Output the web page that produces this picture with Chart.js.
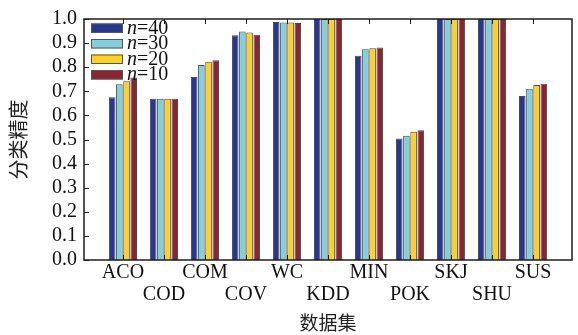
<!DOCTYPE html>
<html>
<head>
<meta charset="utf-8">
<script src="https://cdn.jsdelivr.net/npm/chart.js@4.4.1/dist/chart.umd.min.js"></script>
<style>
  html, body { margin: 0; padding: 0; background: #fff; }
  #wrap { width: 578px; height: 335px; }
</style>
</head>
<body>
<div id="wrap"><canvas id="chart"></canvas></div>
<script>
// data sets on the x axis, in drawing order
const datasetNames = ['ACO', 'COD', 'COM', 'COV', 'WC', 'KDD', 'MIN', 'POK', 'SKJ', 'SHU', 'SUS'];
const seriesN = ['40', '30', '20', '10'];

// classification accuracy per data set
const accN40 = [0.675, 0.669, 0.759, 0.933, 0.988, 1.0, 0.848, 0.504, 1.0, 1.0, 0.680];
const accN30 = [0.729, 0.669, 0.809, 0.948, 0.985, 1.0, 0.875, 0.516, 1.0, 1.0, 0.711];
const accN20 = [0.742, 0.669, 0.823, 0.944, 0.985, 1.0, 0.879, 0.532, 1.0, 1.0, 0.726];
const accN10 = [0.757, 0.669, 0.829, 0.935, 0.983, 1.0, 0.882, 0.538, 1.0, 1.0, 0.731];

const yTicks = [0.0, 0.1, 0.2, 0.3, 0.4, 0.5, 0.6, 0.7, 0.8, 0.9, 1.0];
const xTicks = datasetNames.map((_, i) => i + 1);

const COLORS = ['#283891', '#80cfdb', '#fdd024', '#8b2631'];
const SERIF = '"Liberation Serif", "Times New Roman", serif';
const AXIS = '#1e1e1e';

const allSeries = [accN40, accN30, accN20, accN10];

// frame + inward tick marks
const framePlugin = {
  id: 'frame',
  afterDatasetsDraw(chart) {
    const { ctx, chartArea: a } = chart;
    const x = chart.scales.x, y = chart.scales.y;
    ctx.save();
    ctx.strokeStyle = AXIS;
    ctx.lineWidth = 1;
    ctx.beginPath();
    yTicks.forEach(v => {
      const py = Math.round(y.getPixelForValue(v)) + 0.5;
      ctx.moveTo(a.left, py); ctx.lineTo(a.left + 5, py);
    });
    xTicks.forEach(v => {
      const px = Math.round(x.getPixelForValue(v)) + 0.5;
      ctx.moveTo(px, a.bottom); ctx.lineTo(px, a.bottom - 5);
      ctx.moveTo(px, a.top); ctx.lineTo(px, a.top + 5);
    });
    ctx.stroke();
    ctx.lineWidth = 1.5;
    ctx.strokeRect(a.left, a.top, a.right - a.left, a.bottom - a.top);
    ctx.restore();
  }
};

// legend inside the plot, with italic n
const legendPlugin = {
  id: 'innerLegend',
  afterDraw(chart) {
    const { ctx, chartArea: a } = chart;
    ctx.save();
    chart.data.datasets.forEach((ds, i) => {
      const top = a.top + 4.5 + i * 15.5;
      const bx = a.left + 7;
      ctx.fillStyle = ds.backgroundColor;
      ctx.fillRect(bx, top, 32, 9.5);
      ctx.strokeStyle = '#555';
      ctx.lineWidth = 1;
      ctx.strokeRect(bx + 0.5, top + 0.5, 31, 8.5);
      ctx.fillStyle = '#111';
      ctx.textBaseline = 'alphabetic';
      ctx.textAlign = 'left';
      const base = top + 10;
      let tx = bx + 36;
      ctx.font = 'italic 20px ' + SERIF;
      ctx.fillText('n', tx, base);
      tx += ctx.measureText('n').width;
      ctx.font = '20px ' + SERIF;
      ctx.fillText('=' + seriesN[i], tx, base);
    });
    ctx.restore();
  }
};

new Chart(document.getElementById('chart'), {
  type: 'bar',
  data: {
    datasets: allSeries.map((vals, i) => ({
      label: 'n=' + seriesN[i],
      data: vals.map((v, j) => ({ x: j + 1, y: v })),
      backgroundColor: COLORS[i],
      borderColor: '#4a4a4a',
      borderWidth: 1,
      categoryPercentage: 0.7,
      barPercentage: 0.92
    }))
  },
  options: {
    responsive: true,
    maintainAspectRatio: false,
    animation: false,
    layout: { padding: { top: 12, right: 6, left: 0, bottom: 0 } },
    plugins: {
      legend: { display: false },
      tooltip: { enabled: false }
    },
    scales: {
      x: {
        type: 'linear',
        min: 0.05,
        max: 11.95,
        offset: false,
        grid: { display: false, drawTicks: false, offset: false },
        border: { display: false },
        afterBuildTicks: s => { s.ticks = xTicks.map(v => ({ value: v })); },
        afterFit: s => { s.height = 75; },
        ticks: {
          autoSkip: false,
          maxRotation: 0,
          padding: 2,
          color: '#111',
          font: { family: SERIF, size: 20, lineHeight: 1.1 },
          callback: v => {
            const i = Math.round(v) - 1;
            if (i < 0 || i >= datasetNames.length) return '';
            return i % 2 ? ['', datasetNames[i]] : [datasetNames[i]];
          }
        },
        title: {
          display: true,
          text: '数据集',
          color: '#222',
          padding: { top: 0, bottom: 1 },
          font: { family: '"Noto Sans CJK SC"', size: 19 }
        }
      },
      y: {
        min: 0,
        max: 1,
        grid: { display: false, drawTicks: false },
        border: { display: false },
        afterBuildTicks: s => { s.ticks = yTicks.map(v => ({ value: v })); },
        afterFit: s => { s.width = 84; },
        ticks: {
          autoSkip: false,
          padding: 7,
          color: '#111',
          font: { family: SERIF, size: 20 },
          callback: v => Number(v).toFixed(1)
        },
        title: {
          display: true,
          text: '分类精度',
          color: '#222',
          padding: { top: 6, bottom: 0 },
          font: { family: '"Noto Sans CJK SC"', size: 20 }
        }
      }
    }
  },
  plugins: [framePlugin, legendPlugin]
});
</script>
</body>
</html>
